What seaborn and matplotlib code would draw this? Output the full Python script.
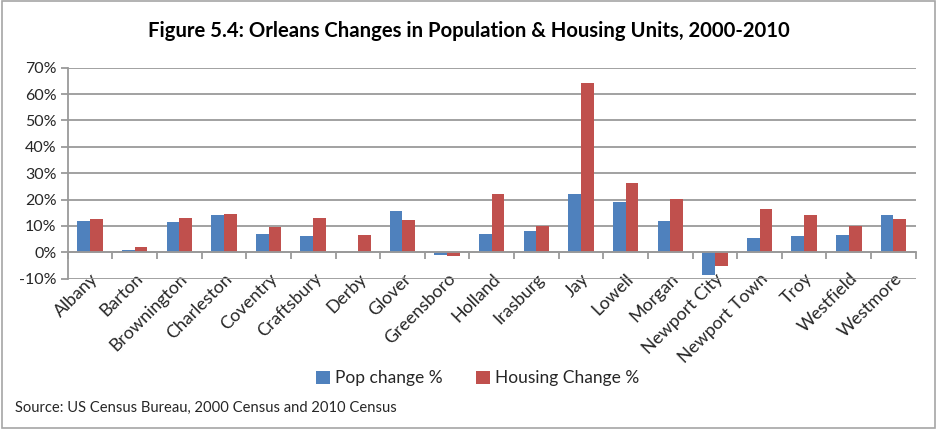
import matplotlib
matplotlib.use("Agg")
import matplotlib.pyplot as plt
from matplotlib.patches import Rectangle
from matplotlib.ticker import FixedLocator, FuncFormatter
import seaborn as sns
import pandas as pd
import numpy as np

towns = ["Albany", "Barton", "Brownington", "Charleston", "Coventry", "Craftsbury",
         "Derby", "Glover", "Greensboro", "Holland", "Irasburg", "Jay", "Lowell",
         "Morgan", "Newport City", "Newport Town", "Troy", "Westfield", "Westmore"]
pop_change = [11.8, 1.0, 11.4, 14.2, 7.0, 6.1, 0.3, 15.8, -0.9, 6.8, 8.0, 22.1,
              19.0, 11.8, -8.4, 5.3, 6.2, 6.5, 14.3]
housing_change = [12.7, 1.9, 13.0, 14.4, 9.6, 13.2, 6.7, 12.4, -1.4, 22.1, 9.8, 64.2,
                  26.1, 20.4, -5.2, 16.5, 14.3, 10.0, 12.7]
series_names = ["Pop change %", "Housing Change %"]
y_ticks = [-10, 0, 10, 20, 30, 40, 50, 60, 70]

df = pd.DataFrame({
    "Town": towns * 2,
    "Change": pop_change + housing_change,
    "Series": [series_names[0]] * len(towns) + [series_names[1]] * len(towns),
})

sns.set_theme(style="white")
plt.rcParams["font.family"] = ["Lato", "DejaVu Sans"]

fig = plt.figure(figsize=(9.37, 4.29), dpi=100)
ax = fig.add_axes([0.0723, 0.3503, 0.9050, 0.4919])

palette = {series_names[0]: "#4F81BD", series_names[1]: "#C0504D"}
sns.barplot(data=df, x="Town", y="Change", hue="Series", order=towns,
            hue_order=series_names, palette=palette, width=0.57, gap=0,
            saturation=1, edgecolor="none", ax=ax, legend=True, zorder=3)

ax.set_ylim(-10, 70)
ax.set_xlim(-0.5, len(towns) - 0.5)
ax.yaxis.set_major_locator(FixedLocator(y_ticks))
ax.yaxis.set_major_formatter(FuncFormatter(lambda v, p: f"{v:.0f}%"))
ax.grid(axis="y", color="#9A9A9A", linewidth=1.3, zorder=0)
ax.set_axisbelow(True)
ax.set_xlabel("")
ax.set_ylabel("")

for side in ["top", "right"]:
    ax.spines[side].set_visible(False)
ax.spines["left"].set_color("#9A9A9A")
ax.spines["left"].set_linewidth(1.3)
ax.spines["bottom"].set_position(("data", 0))
ax.spines["bottom"].set_color("#9A9A9A")
ax.spines["bottom"].set_linewidth(1.3)
ax.spines["bottom"].set_zorder(4)

ax.tick_params(axis="y", which="major", left=True, length=5, width=1.3,
               color="#9A9A9A", labelsize=11.5, labelcolor="#262626", pad=3)
ax.set_xticks(np.arange(-0.5, len(towns)), minor=True)
ax.tick_params(axis="x", which="minor", bottom=True, length=5, width=1.3,
               color="#9A9A9A", direction="out")
ax.tick_params(axis="x", which="major", length=0, pad=13, labelsize=12.8,
               labelcolor="#262626")
for lbl in ax.get_xticklabels():
    lbl.set_rotation(45)
    lbl.set_ha("right")
    lbl.set_va("top")
    lbl.set_rotation_mode("anchor")

handles, labels = ax.get_legend_handles_labels()
ax.legend_.remove()
fig.legend(handles, labels, loc="center", bbox_to_anchor=(0.51, 0.118),
           ncol=2, frameon=False, fontsize=12.5, handlelength=0.8,
           handleheight=0.8, handletextpad=0.3, columnspacing=1.9,
           labelcolor="#262626")

fig.text(0.5, 0.928, "Figure 5.4: Orleans Changes in Population & Housing Units, 2000-2010",
         ha="center", va="center", fontsize=14.6, fontweight="bold", color="#000000")
fig.text(0.016, 0.049, "Source: US Census Bureau, 2000 Census and 2010 Census",
         ha="left", va="center", fontsize=10.6, color="#262626")

fig.patches.append(Rectangle((0.002, 0.002), 0.996, 0.996, transform=fig.transFigure,
                             fill=False, edgecolor="#A6A6A6", linewidth=1.2))

fig.savefig("out.png", dpi=100)
